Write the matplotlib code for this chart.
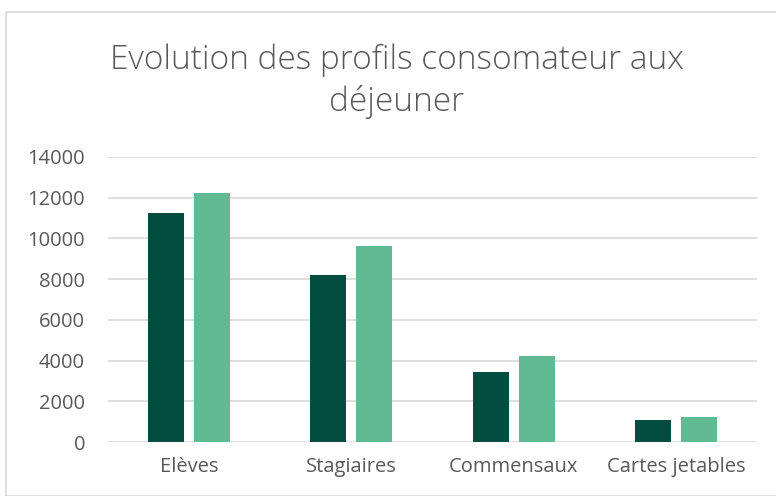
import numpy as np
import matplotlib.pyplot as plt
import matplotlib.patches as patches

categories = ["Elèves", "Stagiaires", "Commensaux", "Cartes jetables"]
serie_1 = [11250, 8200, 3450, 1100]
serie_2 = [12250, 9650, 4230, 1230]
y_ticks = [0, 2000, 4000, 6000, 8000, 10000, 12000, 14000]

plt.rcParams['font.family'] = ['Open Sans', 'DejaVu Sans']

W, H = 776, 496
fig = plt.figure(figsize=(W / 100, H / 100), dpi=100)

# chart border (Excel style)
fig.add_artist(patches.Rectangle((6 / W, 0), 1, 1 - 12 / H, transform=fig.transFigure,
                                 fill=False, edgecolor="#d9d9d9", linewidth=1.2))

ax = fig.add_axes([108 / W, 1 - 442 / H, (757 - 108) / W, (442 - 157) / H])

x = np.arange(len(categories))
w = 0.222
ax.bar(x - 0.142, serie_1, width=w, color="#024d40", zorder=3)
ax.bar(x + 0.142, serie_2, width=w, color="#61ba93", zorder=3)

ax.set_xlim(-0.5, len(categories) - 0.5)
ax.set_ylim(0, 14000)
ax.set_yticks(y_ticks)
ax.set_yticklabels([str(v) for v in y_ticks])
ax.set_xticks(x)
ax.set_xticklabels(categories)
ax.yaxis.grid(True, color="#d9d9d9", linewidth=1.2, zorder=0)
ax.set_axisbelow(True)
for s in ax.spines.values():
    s.set_visible(False)
ax.tick_params(axis='both', length=0, labelsize=14.5, colors="#595959")
ax.tick_params(axis='y', pad=16.5)
ax.tick_params(axis='x', pad=11)

fig.text(397 / W, 1 - 81 / H, "Evolution des profils consomateur aux\ndéjeuner",
         ha='center', va='center', fontsize=24, color="#595959", linespacing=1.3,
         fontweight='light')

fig.savefig("out.png", dpi=100)
